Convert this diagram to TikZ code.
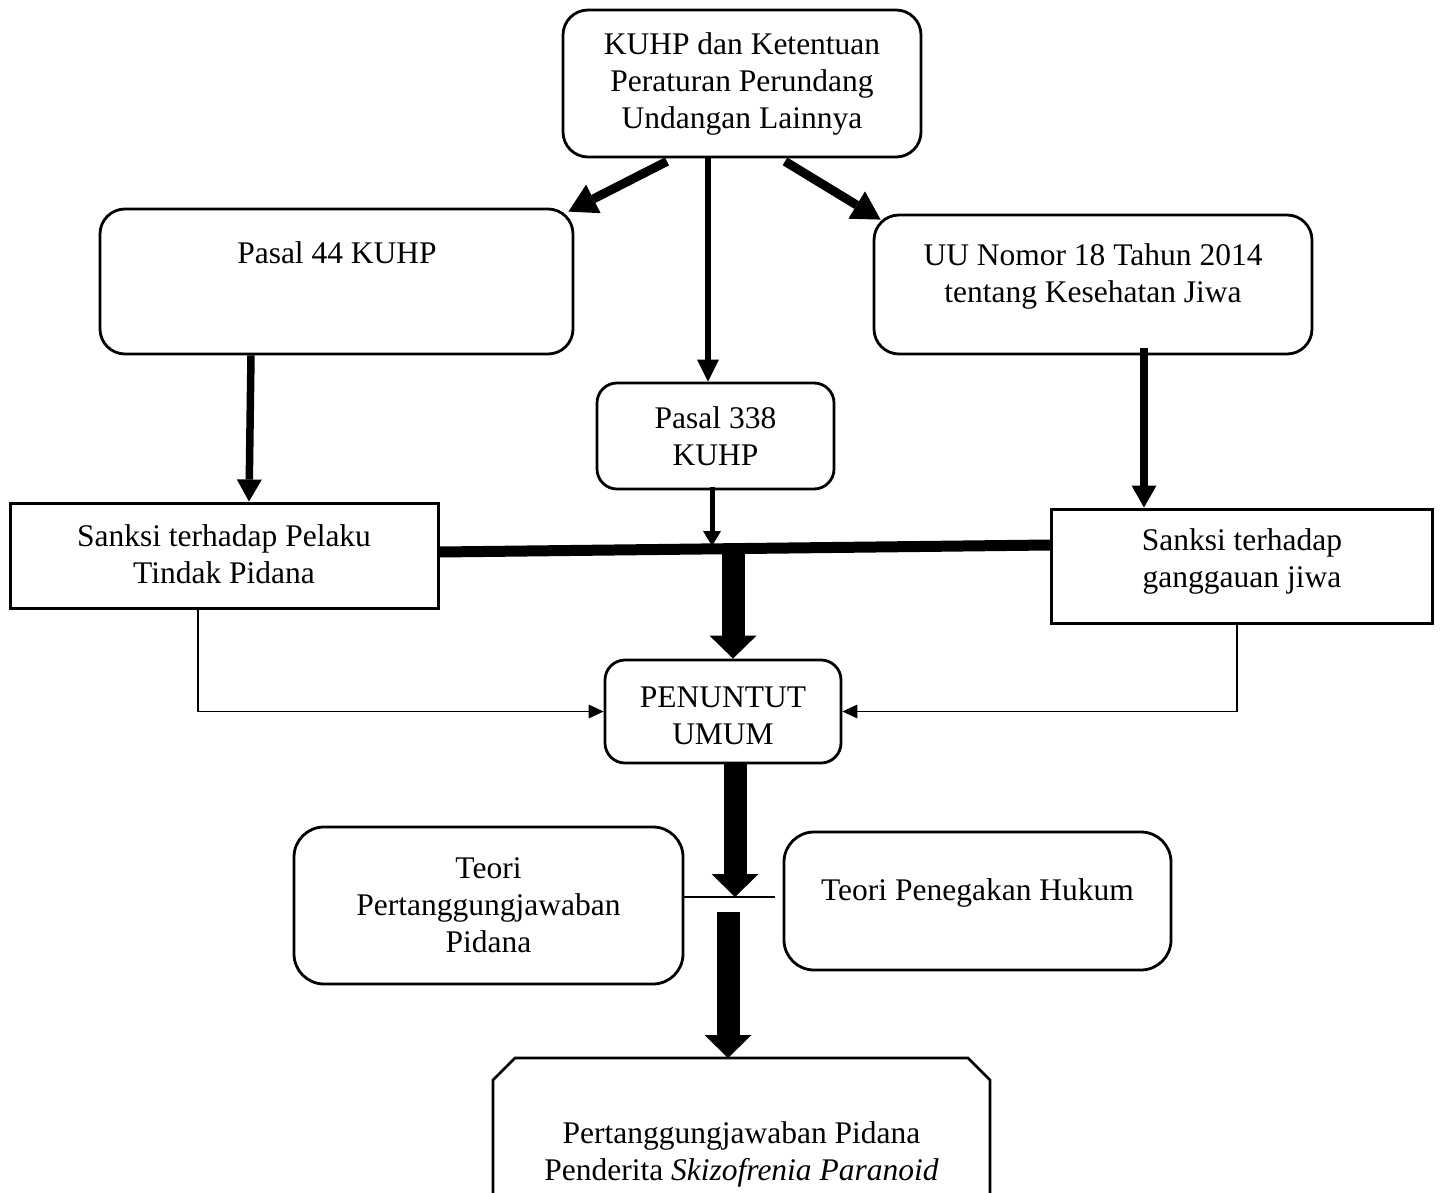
\documentclass[tikz,border=0pt]{standalone}
\usepackage{fontspec}
\setmainfont{Liberation Serif}
\usetikzlibrary{arrows.meta,calc}
\begin{document}
\begin{tikzpicture}[x=1pt,y=-1pt,
  every node/.style={font=\fontsize{31.5}{37}\selectfont},
  rbox/.style={draw,line width=2.8pt,rounded corners=25pt,inner sep=0pt,align=center},
  sbox/.style={draw,line width=3pt,inner sep=0pt,align=center},
  txt/.style={align=center,inner sep=0pt},
  diagarr/.style={line width=9pt,-{Triangle[length=28pt,width=32pt,line width=0pt]}},
  vertarr/.style={line width=7.5pt,-{Triangle[length=22pt,width=25pt,line width=0pt]}},
  midarr/.style={line width=5.5pt,-{Triangle[length=22pt,width=22pt,line width=0pt]}},
  smallarr/.style={line width=5pt,-{Triangle[length=15pt,width=18pt,line width=0pt]}},
  bigarr/.style={line width=23pt,-{Triangle[length=23pt,width=47pt,line width=0pt]}},
  bar/.style={line width=11pt},
  thinarr/.style={line width=1.5pt,-{Triangle[length=15pt,width=14pt,line width=0pt]}},
  thinline/.style={line width=1.5pt}
]
\useasboundingbox (0,0) rectangle (1440,1193);

% boxes
\node[rbox,minimum width=358pt,minimum height=147pt] (top) at (742,83.5)
  {KUHP dan Ketentuan\\Peraturan Perundang\\Undangan Lainnya};
\node[rbox,minimum width=473pt,minimum height=145pt] (p44) at (336.5,281.5) {};
\node[txt] (p44t) at (337,253) {Pasal 44 KUHP};
\node[rbox,minimum width=438pt,minimum height=139pt] (uu) at (1093,284.5) {};
\node[txt] (uut) at (1093,276) {UU Nomor 18 Tahun 2014\\tentang Kesehatan Jiwa};
\node[rbox,rounded corners=20pt,minimum width=237pt,minimum height=106pt] (p338) at (715.5,436)
  {Pasal 338\\KUHP};
\node[sbox,minimum width=428pt,minimum height=105pt] (sL) at (224,555.5) {};
\node[txt] (sLt) at (224,554) {Sanksi terhadap Pelaku\\Tindak Pidana};
\node[sbox,minimum width=381pt,minimum height=114pt] (sR) at (1242,566) {};
\node[txt] (sRt) at (1242,561) {Sanksi terhadap\\ganggauan jiwa};
\node[rbox,rounded corners=20pt,minimum width=236pt,minimum height=103pt] (pu) at (723,711.5) {};
\node[txt] (put) at (723,716) {PENUNTUT\\UMUM};
\node[rbox,rounded corners=30pt,minimum width=389pt,minimum height=157pt] (tp) at (488.5,905.5)
  {Teori\\Pertanggungjawaban\\Pidana};
\node[rbox,rounded corners=30pt,minimum width=387pt,minimum height=138pt] (th) at (977.5,901) {};
\node[txt] (tht) at (977.5,893) {Teori Penegakan Hukum};

% bottom box with chamfered top corners (runs off the bottom edge)
\draw[line width=2.8pt] (493,1260) -- (493,1080) -- (515,1058) -- (968,1058) -- (990,1080) -- (990,1260);
\coordinate (bot) at (741.5,1058);
\node[txt] (bott) at (741.5,1154) {Pertanggungjawaban Pidana\\Penderita \textit{Skizofrenia Paranoid}};

% junction coordinates
\coordinate (j1) at (712,546);
\coordinate (j2) at (733,549);
\coordinate (j3) at (735,897);
\coordinate (j4) at (728,912);

% arrows from top
\draw[diagarr] ($(top.south)+(-75,3)$) -- ($(p44.north east)+(-6,4)$);
\draw[diagarr] ($(top.south)+(43,3)$) -- ($(uu.north west)+(8,6)$);
\draw[midarr] ($(top.south)+(-34,0)$) -- ($(p338.north)+(-7.5,0)$);

% down arrows
\draw[vertarr] ($(p44.south)+(-85.5,0)$) -- ($(sL.north)+(25,0)$);
\draw[vertarr] ($(uu.south)+(51,-7)$) -- ($(sR.north)+(-98,0)$);
\draw[smallarr] ($(p338.south)+(-3.5,-3)$) -- (j1);

% horizontal bar
\draw[bar] ($(sL.east)+(0,-3.5)$) -- ($(sR.west)+(0,-21)$);

% big arrows
\draw[bigarr] (j2) -- ($(pu.north)+(10,0)$);
\draw[bigarr] ($(pu.south)+(12,0)$) -- (j3);
\draw[thinline] (tp.east |- j3) -- ($(th.west |- j3)+(-8,0)$);
\draw[bigarr] (j4) -- ($(bot)+(-13.5,0)$);

% thin connectors
\draw[thinarr] ($(sL.south)+(-26,0)$) |- (pu.west);
\draw[thinarr] ($(sR.south)+(-5,0)$) |- (pu.east);
\end{tikzpicture}
\end{document}
